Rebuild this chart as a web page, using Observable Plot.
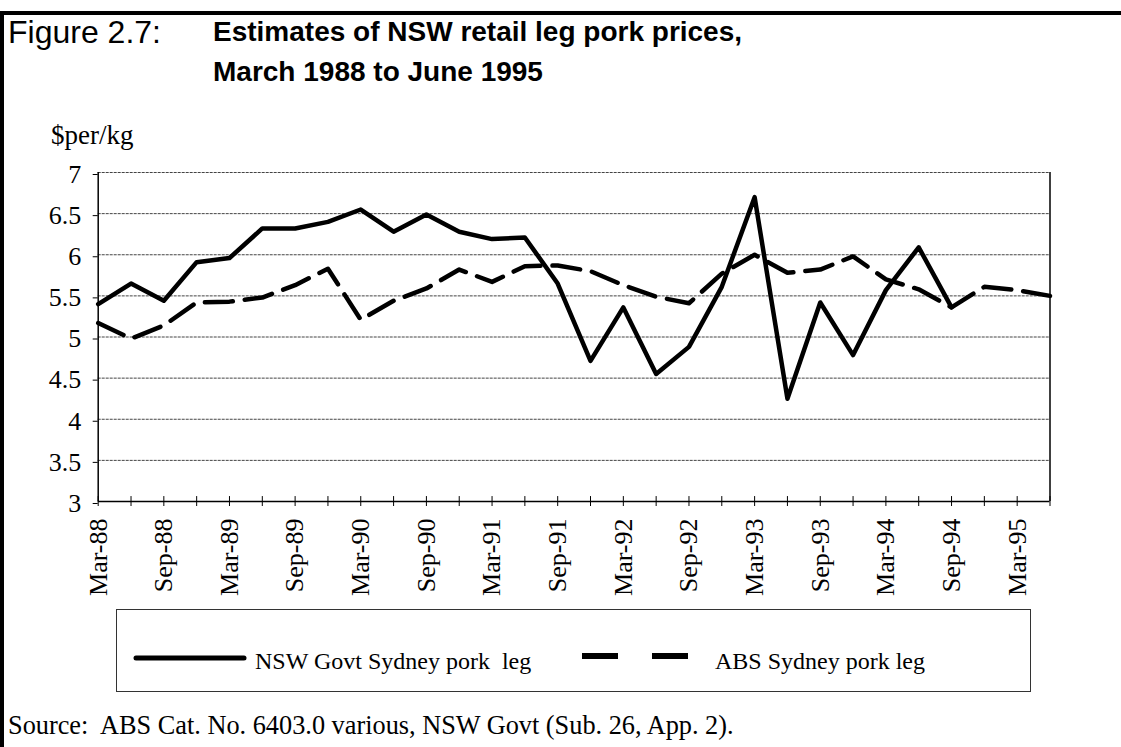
<!DOCTYPE html>
<html><head><meta charset="utf-8">
<script src="https://cdn.jsdelivr.net/npm/d3@7"></script>
<script src="https://cdn.jsdelivr.net/npm/@observablehq/plot@0.6"></script>
<style>
html,body{margin:0;padding:0;background:#fff;}
body{width:1121px;height:747px;overflow:hidden;position:relative;font-family:"Liberation Serif","Times New Roman",serif;color:#000;}
.t{position:absolute;white-space:pre;line-height:1;}
.sans{font-family:"Liberation Sans",Arial,sans-serif;}
#chart{position:absolute;left:0;top:150px;}
#legend{position:absolute;left:116px;top:609px;width:913px;height:81px;border:1px solid #333;}
</style></head><body>
<div style="position:absolute;left:0;top:11px;width:1121px;height:4px;background:#000"></div>
<div style="position:absolute;left:0;top:11px;width:4px;height:736px;background:#000"></div>
<div class="t sans" style="left:8px;top:16px;font-size:32px;">Figure 2.7:</div>
<div class="t sans" style="left:213px;top:18px;font-size:28px;font-weight:bold;">Estimates of NSW retail leg pork prices,</div>
<div class="t sans" style="left:213px;top:58px;font-size:28px;font-weight:bold;">March 1988 to June 1995</div>
<div class="t" style="left:51px;top:122px;font-size:27px;">$per/kg</div>
<div id="chart"></div>
<div id="legend"></div>
<div class="t" style="left:8px;top:713px;font-size:26.3px;">Source:  ABS Cat. No. 6403.0 various, NSW Govt (Sub. 26, App. 2).</div>
<script>
const quarters = ["Mar-88","Jun-88","Sep-88","Dec-88","Mar-89","Jun-89","Sep-89","Dec-89",
  "Mar-90","Jun-90","Sep-90","Dec-90","Mar-91","Jun-91","Sep-91","Dec-91",
  "Mar-92","Jun-92","Sep-92","Dec-92","Mar-93","Jun-93","Sep-93","Dec-93",
  "Mar-94","Jun-94","Sep-94","Dec-94","Mar-95","Jun-95"];
const xTickLabels = ["Mar-88","Sep-88","Mar-89","Sep-89","Mar-90","Sep-90","Mar-91","Sep-91",
  "Mar-92","Sep-92","Mar-93","Sep-93","Mar-94","Sep-94","Mar-95"];
const nswValues = [5.40,5.65,5.44,5.91,5.96,6.32,6.32,6.40,6.55,6.28,6.49,6.28,6.19,6.21,
  5.65,4.71,5.36,4.55,4.88,5.61,6.70,4.25,5.42,4.78,5.57,6.09,5.36];
const absValues = [5.17,4.98,5.14,5.42,5.43,5.48,5.63,5.83,5.21,5.44,5.59,5.82,5.67,5.86,
  5.87,5.80,5.63,5.49,5.41,5.77,6.00,5.78,5.82,5.98,5.70,5.58,5.36,5.61,5.57,5.50];
const yTicks = [3,3.5,4,4.5,5,5.5,6,6.5,7];
const seriesNames = ["NSW Govt Sydney pork  leg","ABS Sydney pork leg"];

const nswData = nswValues.map((v,i)=>({q:quarters[i], v}));
const absData = absValues.map((v,i)=>({q:quarters[i], v}));
const yMin = yTicks[0], yMax = yTicks[yTicks.length-1];

const chart = Plot.plot({
  width: 1121, height: 459,
  marginLeft: 97.7, marginRight: 71.5, marginTop: 22, marginBottom: 108,
  x: {type:"point", domain: quarters, padding: 0, round: false},
  y: {domain:[yMin, yMax]},
  style: {fontFamily:'"Liberation Serif","Times New Roman",serif', fontSize:"26px", color:"#000", background:"transparent", overflow:"visible"},
  marks: [
    Plot.ruleY(yTicks.slice(1), {stroke:"#444", strokeWidth:1, strokeDasharray:"3,1"}),
    Plot.axisY({ticks: yTicks, tickSize:5, tickPadding:12, tickFormat: d=>String(d), label:null, dy:2}),
    Plot.axisX({ticks: quarters, tickSize:5, tickPadding:12, tickRotate:-90,
      tickFormat: d => xTickLabels.includes(d) ? d : "", label:null}),
    Plot.ruleX(quarters, {y1: yMin, y2: yMin + 0.06, stroke:"#000"}),
    Plot.ruleX([quarters[0], quarters[quarters.length-1]], {stroke:"#000", strokeWidth:1.5}),
    Plot.ruleY([yMin], {stroke:"#000", strokeWidth:1.5}),
    Plot.line(absData, {x:"q", y:"v", stroke:"#000", strokeWidth:4.5, strokeDasharray:"28,12", strokeLinejoin:"round"}),
    Plot.line(nswData, {x:"q", y:"v", stroke:"#000", strokeWidth:4.5, strokeLinejoin:"round"})
  ]
});
document.getElementById("chart").appendChild(chart);

// Legend
const lg = d3.select("#legend").append("svg").attr("width",913).attr("height",81)
  .style("position","absolute").style("left","0").style("top","0");
const ff = '"Liberation Serif",serif';
lg.append("line").attr("x1",19).attr("x2",127).attr("y1",48).attr("y2",48)
  .attr("stroke","#000").attr("stroke-width",5).attr("stroke-linecap","round");
lg.append("text").attr("x",138).attr("y",59).attr("font-size",24)
  .attr("font-family",ff).style("white-space","pre").text(seriesNames[0]);
lg.append("line").attr("x1",465).attr("x2",573).attr("y1",46).attr("y2",46)
  .attr("stroke","#000").attr("stroke-width",6).attr("stroke-dasharray","36,34");
lg.append("text").attr("x",598).attr("y",59).attr("font-size",24)
  .attr("font-family",ff).text(seriesNames[1]);
</script>
</body></html>
